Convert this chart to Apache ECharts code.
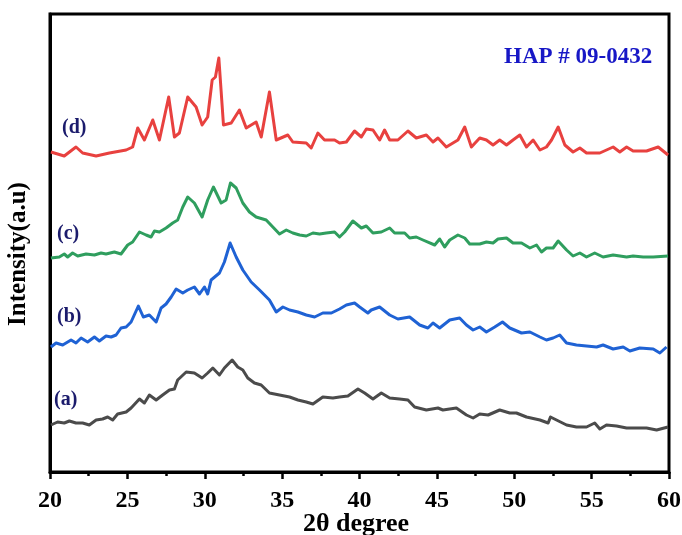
<!DOCTYPE html>
<html>
<head>
<meta charset="utf-8">
<script src="https://cdn.jsdelivr.net/npm/echarts@6/dist/echarts.min.js"></script>
<style>html,body{margin:0;padding:0;background:#fff}#c{width:682px;height:535px}</style>
</head>
<body>
<div id="c"></div>
<script>
// 2θ (degree) and intensity (a.u., offset stacked) for each pattern
const d_x = [20.06,20.92,21.68,22.11,22.98,23.84,24.92,25.34,25.67,26.10,26.64,27.07,27.67,28.04,28.36,28.90,29.44,29.83,30.19,30.48,30.69,30.91,31.21,31.71,32.24,32.68,33.32,33.65,34.18,34.62,35.37,35.69,36.56,36.88,37.31,37.74,38.39,38.71,39.15,39.68,40.12,40.44,40.87,41.30,41.62,41.95,42.48,43.13,43.67,44.32,44.75,45.07,45.61,46.36,46.80,47.23,47.77,48.20,48.63,49.06,49.50,49.92,50.36,50.79,51.22,51.66,52.08,52.41,52.84,53.27,53.80,54.24,54.67,55.53,56.39,56.82,57.26,57.68,58.55,59.30,59.94];
const d_y = [320,316,325,319,316,319,322,325,344,332,352,332,375,335,339,375,365,347,355,392,395,414,347,349,362,344,350,335,380,332,337,330,329,324,339,332,332,329,330,341,335,343,342,332,342,332,332,341,334,337,330,334,325,332,345,325,334,332,327,332,327,332,337,325,332,322,325,332,345,327,320,324,319,319,325,320,325,321,321,325,317];

const c_x = [20.06,20.60,20.92,21.14,21.46,21.79,22.33,22.87,23.30,23.62,24.16,24.59,25.02,25.34,25.78,26.21,26.53,26.75,27.07,27.50,27.93,28.25,28.58,28.90,29.33,29.83,30.19,30.56,31.06,31.38,31.66,32.03,32.46,32.89,33.32,33.97,34.40,34.83,35.27,35.69,36.13,36.56,36.99,37.42,37.85,38.39,38.71,39.04,39.57,40.12,40.44,40.87,41.41,41.95,42.27,42.92,43.24,43.67,44.10,44.86,45.18,45.50,45.83,46.36,46.80,47.12,47.77,48.20,48.63,48.95,49.50,49.92,50.47,51.01,51.44,51.76,52.08,52.51,52.84,53.38,53.80,54.24,54.67,55.20,55.74,56.39,57.26,57.68,58.33,58.98,59.94];
const c_y = [214,215,218,215,219,216,218,217,219,218,220,218,227,230,240,237,235,241,240,244,249,252,265,275,269,255,272,285,269,272,289,284,269,260,255,252,245,238,242,239,237,236,239,238,239,240,235,240,251,244,246,239,240,244,239,239,234,235,232,227,233,225,232,237,234,228,228,230,229,233,234,229,229,224,227,220,224,224,231,222,216,219,215,219,215,217,215,216,215,215,216];

const b_x = [20.06,20.39,20.82,21.36,21.68,22.01,22.43,22.87,23.19,23.62,23.95,24.27,24.59,24.92,25.24,25.71,26.03,26.42,26.86,27.18,27.50,27.83,28.15,28.58,28.90,29.33,29.66,29.98,30.19,30.41,30.95,31.27,31.64,32.03,32.46,33.00,33.54,34.18,34.62,35.05,35.48,36.02,36.56,37.10,37.63,38.18,38.71,39.15,39.68,40.01,40.54,40.76,41.30,41.95,42.48,43.24,43.89,44.42,44.75,45.18,45.83,46.47,46.91,47.34,47.77,48.20,48.74,49.24,49.71,50.47,51.01,51.66,52.08,52.51,52.94,53.38,54.02,54.67,55.32,55.74,56.39,57.04,57.47,58.11,58.98,59.41,59.84];
const b_y = [125,129,127,132,129,134,130,135,131,136,135,137,144,145,150,166,155,157,150,164,168,175,183,179,182,185,178,185,178,192,199,210,229,215,202,190,182,172,160,165,162,160,157,155,159,159,163,167,169,165,159,162,165,157,153,155,147,144,149,144,152,154,147,142,145,140,145,150,144,139,140,135,132,134,137,129,127,126,125,127,123,125,121,124,123,119,125];

const a_x = [20.06,20.49,20.92,21.25,21.68,22.11,22.54,22.98,23.40,23.73,24.05,24.37,24.92,25.24,25.78,26.10,26.42,26.86,27.28,27.72,28.04,28.25,28.80,29.33,29.83,30.19,30.52,30.95,31.27,31.77,32.13,32.46,32.78,33.21,33.65,34.18,34.83,35.48,36.02,36.56,36.99,37.63,38.28,38.71,39.25,39.90,40.33,40.87,41.41,41.95,42.59,43.13,43.56,44.32,45.07,45.39,46.26,46.91,47.34,47.77,48.31,49.06,49.71,50.14,50.79,51.66,52.19,52.34,52.73,53.38,54.02,54.67,55.20,55.53,55.96,56.61,57.26,57.90,58.55,59.20,59.94];
const a_y = [47,50,49,51,49,49,47,52,53,55,52,58,60,64,73,69,77,72,77,82,83,92,100,99,94,99,104,97,104,112,105,102,94,89,87,79,77,75,72,70,68,75,74,75,76,83,79,73,79,74,73,72,65,62,64,62,64,57,54,58,57,62,59,59,55,52,49,55,52,47,45,45,49,43,47,46,44,44,44,42,45];

const xTicks = {min: 20, max: 60, interval: 5};
const seriesNames = ['(a)', '(b)', '(c)', '(d)'];
const titleText = 'HAP # 09-0432';
const xName = '2θ degree';
const yName = 'Intensity(a.u)';

const zip = (xs, ys) => xs.map((x, i) => [x, ys[i]]);
const serif = '"Liberation Serif", "Times New Roman", serif';
const colors = ['#4b4b4b', '#1f62d4', '#2f9e5e', '#e8413f'];
const datasets = [zip(a_x, a_y), zip(b_x, b_y), zip(c_x, c_y), zip(d_x, d_y)];
const labelPos = [[54, 402], [57, 319], [57, 236], [62, 130]];

const chart = echarts.init(document.getElementById('c'));
chart.setOption({
  animation: false,
  backgroundColor: '#fff',
  title: {
    text: titleText, left: 499, top: 41,
    textStyle: {fontFamily: serif, fontWeight: 'bold', fontSize: 23, color: '#1717c6'}
  },
  grid: {left: 50, right: 13, top: 14, bottom: 63, containLabel: false, outerBoundsMode: 'none',
    show: true, borderColor: '#000', borderWidth: 3, backgroundColor: 'transparent'},
  xAxis: {
    type: 'value', min: xTicks.min, max: xTicks.max, interval: xTicks.interval,
    axisLine: {show: true, lineStyle: {color: '#000', width: 3}},
    axisTick: {show: true, inside: false, length: 7, lineStyle: {color: '#000', width: 2.5}},
    minorTick: {show: true, splitNumber: 2, length: 4, lineStyle: {color: '#000', width: 2.5}},
    splitLine: {show: false},
    axisLabel: {fontFamily: serif, fontWeight: 'bold', fontSize: 24, color: '#000', margin: 17}
  },
  yAxis: {
    type: 'value', min: 0, max: 458,
    axisLine: {show: true, lineStyle: {color: '#000', width: 3}},
    axisTick: {show: false}, axisLabel: {show: false}, splitLine: {show: false}
  },
  series: datasets.map((data, i) => ({
    name: seriesNames[i], type: 'line', data: data, showSymbol: false, symbol: 'none',
    lineStyle: {color: colors[i], width: 3, join: 'round'}
  })),
  graphic: seriesNames.map((t, i) => ({
    type: 'text', left: labelPos[i][0], top: labelPos[i][1] - 12,
    style: {text: t, font: 'bold 20px ' + serif, fill: '#1b1b6c'}
  })).concat([{
    type: 'text', x: 19, y: 254, rotation: Math.PI / 2,
    style: {text: yName, font: 'bold 25px ' + serif, fill: '#000', align: 'center', verticalAlign: 'middle'}
  }, {
    type: 'text', x: 356, y: 524,
    style: {text: xName, font: 'bold 26px ' + serif, fill: '#000', align: 'center', verticalAlign: 'middle'}
  }])
});
</script>
</body>
</html>
